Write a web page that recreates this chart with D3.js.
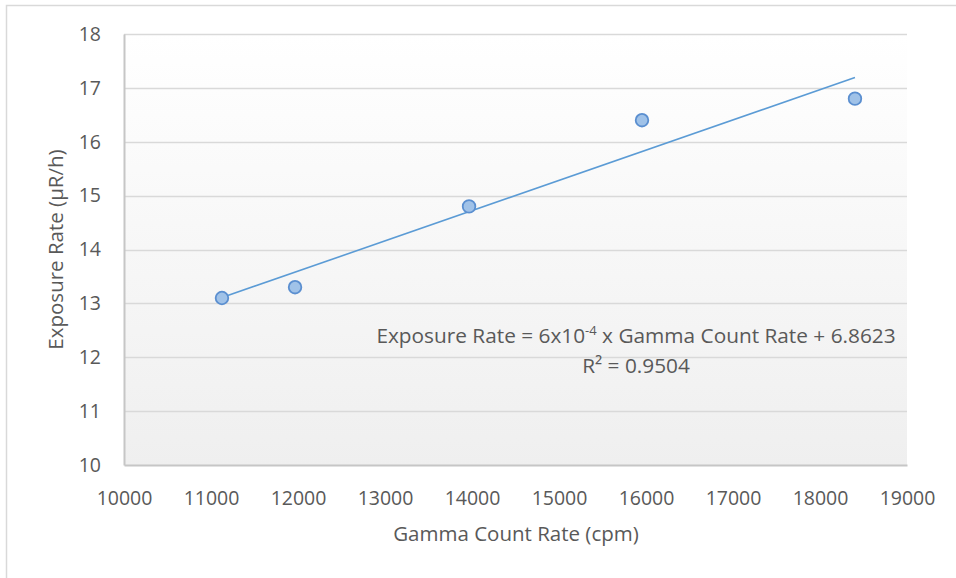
<!DOCTYPE html>
<html>
<head>
<meta charset="utf-8">
<script src="https://cdn.jsdelivr.net/npm/d3@7"></script>
<style>
  html, body { margin: 0; padding: 0; background: #fff; }
  svg { display: block; }
  text { font-family: "Open Sans", "Noto Sans", sans-serif; fill: #595959; }
</style>
</head>
<body>
<svg id="chart" width="956" height="578"></svg>
<script>
// Gamma count rate (cpm) vs. measured exposure rate (µR/h)
const countRates = [11126, 11966, 13966, 15954, 18402];
const exposureRates = [13.1, 13.3, 14.8, 16.4, 16.8];
const xTicks = [10000, 11000, 12000, 13000, 14000, 15000, 16000, 17000, 18000, 19000];
const yTicks = [10, 11, 12, 13, 14, 15, 16, 17, 18];
const equationText = "Exposure Rate = 6x10";
const equationExp = "-4";
const equationRest = " x Gamma Count Rate + 6.8623";
const r2Text = "R² = 0.9504";

const svg = d3.select("#chart");
const W = 956, H = 578;
const margin = { left: 124, top: 34, right: 49, bottom: 113 };
const plotW = W - margin.left - margin.right;
const plotH = H - margin.top - margin.bottom;
const tickFont = "19.5px";
const labelFont = "20.5px";

// chart frame
svg.append("rect")
  .attr("x", 6.5).attr("y", 5.5)
  .attr("width", W + 10).attr("height", H + 10)
  .attr("fill", "#fff").attr("stroke", "#d9d9d9").attr("stroke-width", 1.5);

const defs = svg.append("defs");
const grad = defs.append("linearGradient").attr("id", "plotBg")
  .attr("x1", 0).attr("y1", 0).attr("x2", 0).attr("y2", 1);
grad.append("stop").attr("offset", "0%").attr("stop-color", "#ffffff");
grad.append("stop").attr("offset", "100%").attr("stop-color", "#efefef");

const x = d3.scaleLinear().domain([10000, 19000]).range([0, plotW]);
const y = d3.scaleLinear().domain([10, 18]).range([plotH, 0]);

const g = svg.append("g").attr("transform", `translate(${margin.left},${margin.top})`);

g.append("rect").attr("width", plotW).attr("height", plotH).attr("fill", "url(#plotBg)");

// horizontal gridlines
g.append("g").selectAll("line").data(yTicks.filter(d => d > 10)).join("line")
  .attr("x1", 0).attr("x2", plotW)
  .attr("y1", d => Math.round(y(d)) + 0.5).attr("y2", d => Math.round(y(d)) + 0.5)
  .attr("stroke", "#d9d9d9").attr("stroke-width", 1.3);

// axes
const yAxis = g.append("g").call(d3.axisLeft(y).tickValues(yTicks).tickSize(0).tickPadding(23));
yAxis.select(".domain").attr("stroke", "#c6c6c6").attr("stroke-width", 2);
yAxis.selectAll("text").style("font-size", tickFont).attr("fill", "#595959");

const xAxis = g.append("g").attr("transform", `translate(0,${plotH})`)
  .call(d3.axisBottom(x).tickValues(xTicks).tickFormat(d3.format("d")).tickSize(0).tickPadding(26));
xAxis.select(".domain").attr("stroke", "#c6c6c6").attr("stroke-width", 2);
xAxis.selectAll("text").style("font-size", tickFont).attr("fill", "#595959");

// least-squares trend line
const n = countRates.length;
const mx = d3.mean(countRates), my = d3.mean(exposureRates);
let sxy = 0, sxx = 0;
for (let i = 0; i < n; i++) {
  sxy += (countRates[i] - mx) * (exposureRates[i] - my);
  sxx += (countRates[i] - mx) ** 2;
}
const slope = sxy / sxx, intercept = my - slope * mx;
const xMin = d3.min(countRates), xMax = d3.max(countRates);
g.append("line")
  .attr("x1", x(xMin)).attr("y1", y(intercept + slope * xMin))
  .attr("x2", x(xMax)).attr("y2", y(intercept + slope * xMax))
  .attr("stroke", "#5b9bd5").attr("stroke-width", 1.6);

// data points
g.append("g").selectAll("circle").data(countRates.map((c, i) => [c, exposureRates[i]])).join("circle")
  .attr("cx", d => x(d[0])).attr("cy", d => y(d[1])).attr("r", 6.3)
  .attr("fill", "#a0c2e8").attr("stroke", "#5b8fd0").attr("stroke-width", 1.8);

// trend line label
const eq = svg.append("text").attr("x", 636).attr("y", 343).attr("text-anchor", "middle")
  .style("font-size", "20.8px");
eq.append("tspan").text(equationText);
eq.append("tspan").attr("dy", -8).style("font-size", "13px").text(equationExp);
eq.append("tspan").attr("dy", 8).text(equationRest);
svg.append("text").attr("x", 636).attr("y", 373).attr("text-anchor", "middle")
  .style("font-size", "20.8px").text(r2Text);

// axis titles
svg.append("text").attr("x", 516).attr("y", 541).attr("text-anchor", "middle")
  .style("font-size", labelFont).text("Gamma Count Rate (cpm)");
svg.append("text").attr("transform", `translate(63,${margin.top + plotH / 2}) rotate(-90)`)
  .attr("text-anchor", "middle").style("font-size", labelFont).text("Exposure Rate (µR/h)");
</script>
</body>
</html>
